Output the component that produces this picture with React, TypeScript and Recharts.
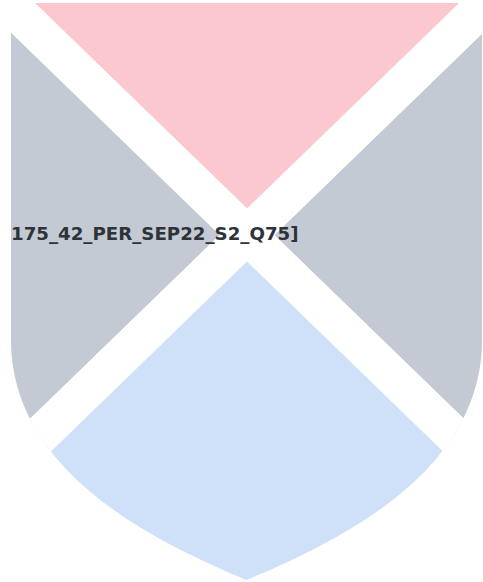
import * as React from 'react';
import { PieChart, Pie, Cell, Sector } from 'recharts';

// slices, counter-clockwise from 3 o'clock
const segments = ['Right', 'Top', 'Left', 'Bottom'];
const shares = [24.5, 25.5, 24.5, 25.5];
const colors = ['#c3cad3', '#fcc8cf', '#c3cad3', '#cfe1f8'];
const caption = '175_42_PER_SEP22_S2_Q75]';

const data = segments.map((name, i) => ({ name, value: shares[i] }));
const total = shares.reduce((a, b) => a + b, 0);
const startAngle = -(shares[0] / total) * 180;

function ClippedSector(props: any) {
  return (
    <g clipPath="url(#shield)">
      <Sector {...props} />
    </g>
  );
}

export default function App() {
  return (
    <div style={{ position: 'absolute', left: 0, top: 0, width: 483, height: 582 }}>
      <PieChart width={483} height={582} margin={{ top: 0, right: 0, bottom: 0, left: 0 }}>
        <defs>
          <clipPath id="shield">
            <path d="M11,3 H482 V340 C482,470 343,540 246.5,580 C150,540 11,470 11,340 Z" />
          </clipPath>
        </defs>
        <Pie
          data={data}
          dataKey="value"
          nameKey="name"
          cx={247}
          cy={235}
          innerRadius={0}
          outerRadius={440}
          startAngle={startAngle}
          endAngle={startAngle + 360}
          stroke="#ffffff"
          strokeWidth={38}
          shape={ClippedSector}
          isAnimationActive={false}
        >
          {data.map((entry, index) => (
            <Cell key={`cell-${index}`} fill={colors[index]} />
          ))}
        </Pie>
      </PieChart>
      {/* caption sits on top of the pie */}
      <svg width={483} height={582} style={{ position: 'absolute', left: 0, top: 0, pointerEvents: 'none' }}>
        <text x={11} y={240} fontFamily="DejaVu Sans" fontWeight="bold" fontSize={18.2} fill="#2d3339">
          {caption}
        </text>
      </svg>
    </div>
  );
}
